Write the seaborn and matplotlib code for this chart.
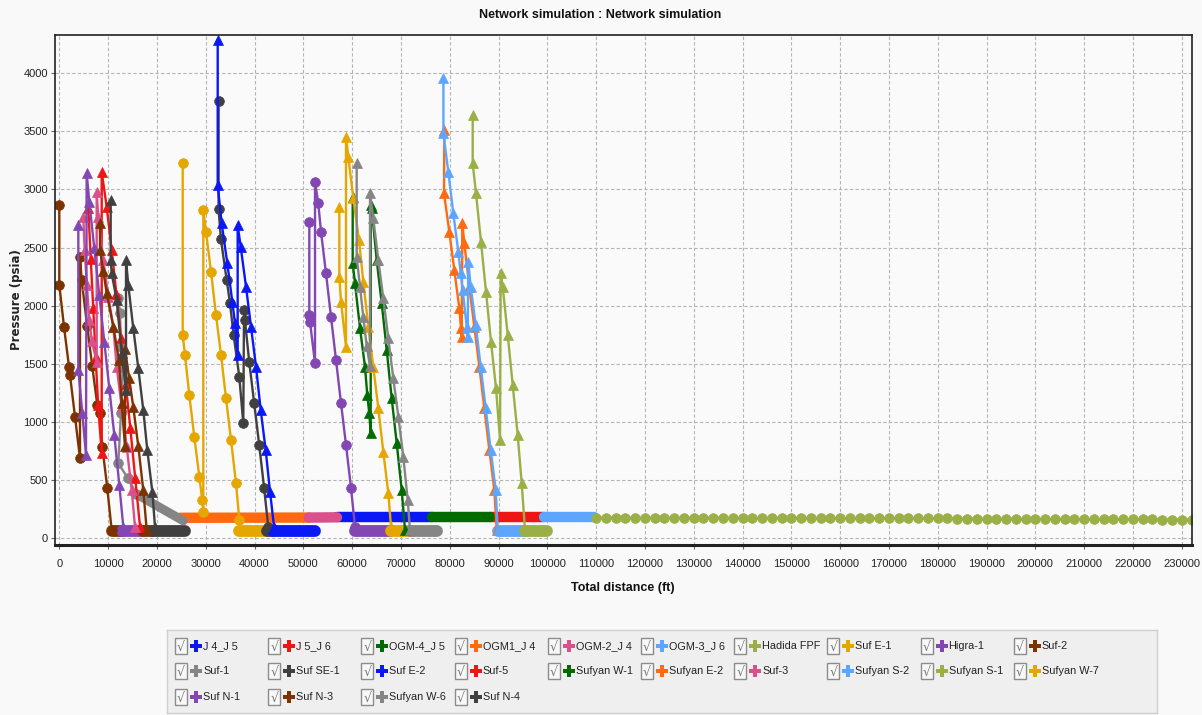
import matplotlib
matplotlib.use("Agg")
import matplotlib.pyplot as plt
import seaborn as sns
from matplotlib.patches import Rectangle

# ---------------- data ----------------
labels = ["J 4_J 5", "J 5_J 6", "OGM-4_J 5", "OGM1_J 4", "OGM-2_J 4", "OGM-3_J 6",
          "Hadida FPF", "Suf E-1", "Higra-1", "Suf-2", "Suf-1", "Suf SE-1",
          "Suf E-2", "Suf-5", "Sufyan W-1", "Sufyan E-2", "Suf-3", "Sufyan S-2",
          "Sufyan S-1", "Sufyan W-7", "Suf N-1", "Suf N-3", "Sufyan W-6", "Suf N-4"]

palette12 = ["#0a18f5", "#ee1515", "#006b00", "#ff6a10", "#d9508a", "#5ca6ff",
             "#9aaf45", "#e6a600", "#8247b2", "#7d3300", "#858585", "#404040"]

# pipelines between junctions (start x, end x, start y, end y)
pipe_x0 = [56900, 88320, 76370, 24740, 51100, 99240]
pipe_x1 = [76370, 99240, 88320, 51100, 56900, 109500]
pipe_y0 = [180, 180, 180, 176, 178, 180]
pipe_y1 = [180, 180, 180, 178, 180, 180]

hadida_x = [110000, 112000, 114000, 116000, 118000, 120000, 122000, 124000, 126000, 128000,
            130000, 132000, 134000, 136000, 138000, 140000, 142000, 144000, 146000, 148000,
            150000, 152000, 154000, 156000, 158000, 160000, 162000, 164000, 166000, 168000,
            170000, 172000, 174000, 176000, 178000, 180000, 182000, 184000, 186000, 188000,
            190000, 192000, 194000, 196000, 198000, 200000, 202000, 204000, 206000, 208000,
            210000, 212000, 214000, 216000, 218000, 220000, 222000, 224000, 226000, 228000,
            230000, 232000]
hadida_y = [178, 178, 178, 178, 177, 177, 177, 177, 177, 176,
            176, 176, 176, 176, 175, 175, 175, 175, 175, 174,
            174, 174, 174, 173, 173, 173, 173, 172, 172, 172,
            172, 171, 171, 171, 170, 170, 170, 169, 169, 169,
            168, 168, 168, 167, 167, 167, 166, 166, 165, 165,
            165, 164, 164, 163, 163, 163, 162, 162, 161, 161,
            160, 160]

sufE1_x = [25290, 25290, 25760, 26640, 27660, 28690, 29300, 29510, 29510, 30060, 31090,
           32110, 33140, 34160, 35190, 36210, 36890]
sufE1_y = [3224, 1748, 1576, 1232, 874, 530, 329, 229, 2823, 2636, 2293,
           1920, 1576, 1204, 845, 473, 157]

higra_x = [51230, 51230, 51370, 52400, 52400, 53070, 53630, 54650, 55680, 56700, 57730,
           58750, 59780, 60590]
higra_y = [2722, 1920, 1862, 1505, 3066, 2880, 2636, 2279, 1905, 1533, 1161,
           802, 430, 100]

suf2_x = [0, 0, 963, 1988, 2190, 3217, 4242, 4242, 4584, 5700, 6750, 7790, 8340, 8810,
          9840, 10730]
suf2_y = [2866, 2178, 1820, 1476, 1404, 1046, 688, 2421, 2221, 1830, 1480, 1146, 1075, 788,
          430, 71]

suf1_x = [12090, 12440, 12640, 12990, 12640, 12090, 14000, 15800]
suf1_y = [2064, 1935, 1648, 1475, 1075, 645, 520, 380]

sufSE1_x = [32640, 32640, 33120, 34300, 34980, 35720, 36880, 37700, 37850, 38030, 38910,
            39940, 40970, 41980, 42810]
sufSE1_y = [3760, 2830, 2570, 2221, 2021, 1750, 1390, 990, 1965, 1880, 1520,
            1160, 800, 430, 100]

sufE2_x = [32460, 32460, 33270, 34430, 35450, 36000, 36550, 36550, 37170, 38260, 39280,
           40310, 41270, 42290, 43180, 44000]
sufE2_y = [4285, 3038, 2708, 2364, 2035, 1849, 1576, 2694, 2507, 2164, 1820,
           1475, 1103, 759, 401, 100]

suf5_x = [5950, 6450, 6950, 7450, 7950, 8690, 8690, 9710, 10740, 11700, 12650, 13600,
          14550, 15550, 16540]
suf5_y = [2837, 2400, 1980, 1560, 1150, 731, 3152, 2851, 2479, 2100, 1720, 1330,
          950, 520, 100]

w1_x = [60120, 60120, 60590, 61620, 62640, 63110, 63520, 63810, 63810, 64020, 65040,
        66070, 67090, 68110, 69140, 70160, 70840]
w1_y = [2937, 2364, 2193, 1806, 1475, 1232, 1075, 903, 2866, 2837, 2393,
        2021, 1619, 1204, 817, 415, 71]

e2_x = [78900, 78830, 79920, 80940, 81970, 82320, 82460, 82590, 83000, 84020, 85040,
        86070, 87090, 88120, 89140, 89630]
e2_y = [3511, 2966, 2636, 2307, 1978, 1806, 1734, 2708, 2536, 2163, 1819,
        1475, 1118, 759, 415, 71]

suf3_x = [4920, 5200, 5650, 6150, 6640, 7660, 7660, 7990, 9020, 10040, 11070, 11760,
          12780, 13810, 14840, 15510]
suf3_y = [2765, 2480, 2180, 1880, 1700, 1519, 2975, 2765, 2393, 2078, 1820, 1475,
          1132, 788, 415, 100]

s2_x = [78710, 78710, 79710, 80740, 81760, 82250, 82660, 83480, 83690, 83810, 84300,
        85330, 86350, 87380, 88400, 89430, 89840]
s2_y = [3955, 3482, 3152, 2794, 2464, 2279, 2135, 1819, 1734, 2378, 2163,
        1834, 1475, 1118, 759, 415, 71]

s1_x = [84710, 84710, 85390, 86410, 87440, 88460, 89490, 90310, 90450, 90860, 91890,
        92910, 93930, 94750, 95430]
s1_y = [3640, 3224, 2966, 2550, 2120, 1690, 1290, 845, 2279, 2163, 1748,
        1318, 888, 473, 71]

w7_x = [57380, 57380, 57730, 58750, 58750, 59220, 60250, 61410, 62300, 63320, 64340,
        65370, 66390, 67420, 67970]
w7_y = [2851, 2249, 2034, 1647, 3453, 3281, 2923, 2565, 2206, 1819, 1475,
        1118, 745, 387, 100]

n1_x = [3900, 3900, 4720, 5470, 5610, 6150, 7170, 8200, 9220, 10250, 11270, 12300, 13110]
n1_y = [2694, 1447, 1075, 716, 3138, 2894, 2494, 2092, 1690, 1290, 888, 458, 100]

n3_x = [8340, 8340, 9000, 9710, 11070, 12230, 12790, 13460, 13460, 14300, 15160, 16190,
        17210, 17910]
n3_y = [2710, 2480, 2300, 2110, 1820, 1530, 1160, 790, 1630, 1380, 1130, 790,
        415, 71]

w6_x = [60940, 60940, 61620, 62300, 63000, 63670, 63670, 64340, 65370, 66390, 67420,
        68440, 69470, 70490, 71390, 71860]
w6_y = [3224, 2421, 2163, 1900, 1650, 1480, 2966, 2751, 2393, 2064, 1720,
        1376, 1046, 702, 329, 71]

n4_x = [10530, 10530, 10740, 11760, 12790, 13670, 13670, 14140, 15160, 16190, 17210,
        18030, 19060, 19610]
n4_y = [2909, 2393, 2279, 2049, 1591, 1273, 2393, 2178, 1806, 1462, 1103,
        759, 401, 100]

# low-pressure tie-in lines after each well (series index, x0, x1, y0, y1)
band_idx = [9, 20, 21, 23, 10, 7, 11, 12, 8, 19, 22, 17, 18]
band_x0 = [10730, 12790, 17210, 19260, 15800, 36890, 42590, 43790, 60590, 67970, 71860, 89840, 95430]
band_x1 = [12790, 17210, 19260, 25760, 25410, 42590, 43790, 52310, 67820, 71870, 77400, 95430, 99940]
band_y0 = [62, 62, 62, 62, 380, 62, 62, 62, 62, 62, 62, 62, 62]
band_y1 = [62, 62, 62, 62, 150, 62, 62, 62, 62, 62, 62, 62, 62]

x_ticks = list(range(0, 230001, 10000))
y_ticks = [0, 500, 1000, 1500, 2000, 2500, 3000, 3500, 4000]

# ---------------- style ----------------
sns.set_theme(style="whitegrid")
sans = ['Liberation Sans', 'DejaVu Sans']
plt.rcParams['font.family'] = sans

W, H = 1202, 715
fig = plt.figure(figsize=(W / 100, H / 100), dpi=100, facecolor="#f9f9f9")
ax = fig.add_axes([55 / W, 1 - 545 / H, (1192 - 55) / W, (545 - 35) / H])
ax.set_facecolor("#fafafa")

colors = {lab: palette12[i % 12] for i, lab in enumerate(labels)}

# pipelines
for i in range(6):
    sns.lineplot(x=[pipe_x0[i], pipe_x1[i]], y=[pipe_y0[i], pipe_y1[i]], ax=ax,
                 color=colors[labels[i]], linewidth=7.5, solid_capstyle="round",
                 sort=False, estimator=None, legend=False)

# low pressure bands
for k in range(len(band_idx)):
    c = colors[labels[band_idx[k]]]
    sns.lineplot(x=[band_x0[k], band_x1[k]], y=[band_y0[k], band_y1[k]], ax=ax,
                 color=c, linewidth=8.5 if band_y0[k] < 100 else 6.5,
                 solid_capstyle="round", sort=False, estimator=None, legend=False)

well_series = [
    ("Hadida FPF", hadida_x, hadida_y, "o"),
    ("Suf E-1", sufE1_x, sufE1_y, "o"),
    ("Higra-1", higra_x, higra_y, "o"),
    ("Suf-2", suf2_x, suf2_y, "o"),
    ("Suf-1", suf1_x, suf1_y, "o"),
    ("Suf SE-1", sufSE1_x, sufSE1_y, "o"),
    ("Suf E-2", sufE2_x, sufE2_y, "^"),
    ("Suf-5", suf5_x, suf5_y, "^"),
    ("Sufyan W-1", w1_x, w1_y, "^"),
    ("Sufyan E-2", e2_x, e2_y, "^"),
    ("Suf-3", suf3_x, suf3_y, "^"),
    ("Sufyan S-2", s2_x, s2_y, "^"),
    ("Sufyan S-1", s1_x, s1_y, "^"),
    ("Sufyan W-7", w7_x, w7_y, "^"),
    ("Suf N-1", n1_x, n1_y, "^"),
    ("Suf N-3", n3_x, n3_y, "^"),
    ("Sufyan W-6", w6_x, w6_y, "^"),
    ("Suf N-4", n4_x, n4_y, "^"),
]
for lab, xs, ys, mk in well_series:
    c = colors[lab]
    sns.lineplot(x=xs, y=ys, ax=ax, color=c, marker=mk,
                 markersize=7 if mk == "o" else 7.5, markeredgecolor=c,
                 markeredgewidth=0.5, linewidth=1.7, sort=False, estimator=None,
                 legend=False)

# axes styling
ax.set_xlim(-880, 232100)
ax.set_ylim(-58, 4329)
ax.set_xticks(x_ticks)
ax.set_xticklabels([str(v) for v in x_ticks])
ax.set_yticks(y_ticks)
ax.set_yticklabels([str(v) for v in y_ticks])
ax.tick_params(axis="both", labelsize=8, colors="#222222", length=3, width=0.8,
               direction="out", pad=2)
ax.tick_params(axis="x", pad=7)
ax.tick_params(axis="both", which="both", bottom=True, left=True, color="#666666")
ax.grid(True, color="#b4b4b4", linestyle=(0, (3, 2)), linewidth=0.8)
for side in ["top", "right", "left"]:
    ax.spines[side].set_color("#222222")
    ax.spines[side].set_linewidth(1.2)
ax.spines["bottom"].set_color("#222222")
ax.spines["bottom"].set_linewidth(2.2)
ax.set_xlabel("")
ax.set_ylabel("")

fig.text(600 / W, 1 - 15 / H, "Network simulation : Network simulation", ha="center",
         va="center", fontsize=9, fontweight="bold", color="#111111", family=sans)
fig.text(623 / W, 1 - 588 / H, "Total distance (ft)", ha="center", va="center",
         fontsize=9, fontweight="bold", color="#111111", family=sans)
fig.text(17 / W, 1 - 300 / H, "Pressure (psia)", ha="center", va="center",
         rotation=90, fontsize=8.5, fontweight="bold", color="#222222",
         family=['DejaVu Sans'])

# legend panel (grid of check boxes)
lax = fig.add_axes([167 / W, 1 - 713 / H, (1157 - 167) / W, (713 - 630) / H])
lax.set_xlim(167, 1157)
lax.set_ylim(713, 630)
lax.set_facecolor("#efefef")
lax.set_xticks([])
lax.set_yticks([])
lax.grid(False)
for s in lax.spines.values():
    s.set_color("#cfcfcf")
    s.set_linewidth(1)
row_y = [646, 671, 697]
for i, lab in enumerate(labels):
    col, row = i % 10, i // 10
    x0 = 175 + 93.2 * col
    yc = row_y[row]
    lax.add_patch(Rectangle((x0, yc - 8), 12, 16, facecolor="#f8f8f8",
                            edgecolor="#8c8c8c", linewidth=1))
    lax.text(x0 + 6, yc + 1, "\u221a", ha="center", va="center", fontsize=9,
             color="#777777", family=['DejaVu Sans'])
    lax.plot([x0 + 21], [yc], marker="P", markersize=8, color=colors[lab],
             markeredgewidth=0)
    lax.text(x0 + 28, yc, lab, ha="left", va="center", fontsize=7.8,
             color="#222222", family=sans)

fig.savefig("out.png", dpi=100, facecolor=fig.get_facecolor())
